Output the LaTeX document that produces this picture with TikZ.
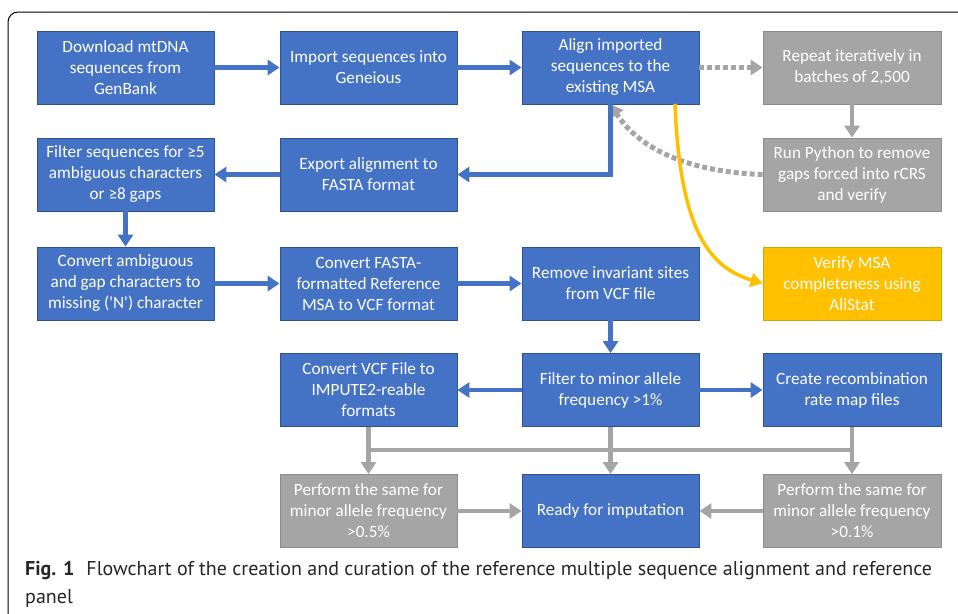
\documentclass[tikz,border=0pt]{standalone}
\usepackage{fontspec}
\setmainfont{Carlito}
\newfontfamily\capfont{PT Sans}
\usetikzlibrary{arrows.meta}
\definecolor{obl}{HTML}{4472C4}
\definecolor{obd}{HTML}{2F528F}
\definecolor{ogr}{HTML}{A5A5A5}
\definecolor{ogd}{HTML}{8C8C8C}
\definecolor{oye}{HTML}{FFC000}
\definecolor{oyd}{HTML}{D9A300}
\tikzset{
  box/.style={minimum width=177pt, minimum height=73pt, inner sep=2pt, align=center,
    text=white, font=\fontsize{17.2}{21}\selectfont, line width=0.8pt},
  bluebox/.style={box, fill=obl, draw=obd},
  graybox/.style={box, fill=ogr, draw=ogd},
  yelbox/.style={box, fill=oye, draw=oyd},
  bar/.style={line width=4.5pt, -{Triangle[width=15pt,length=12pt]}},
  bluearr/.style={bar, draw=obl},
  grayarr/.style={bar, draw=ogr},
  grayline/.style={line width=4.5pt, draw=ogr},
  dotarr/.style={line width=5pt, draw=ogr, dash pattern=on 5pt off 3pt, -{Triangle[width=15pt,length=12pt]}},
  yelarr/.style={line width=3.5pt, draw=oye, -{Triangle[width=14pt,length=12pt]}},
  captext/.style={anchor=base west, inner sep=0pt, font=\capfont\fontsize{20}{28}\selectfont, text=black!85},
}
\begin{document}
\begin{tikzpicture}[x=1pt,y=-1pt]
\useasboundingbox (0,0) rectangle (958,613);
\begin{scope}
\clip (0,0) rectangle (958,613);
\draw[line width=1pt, rounded corners=10pt] (8,12) rectangle (980,640);
\end{scope}
% row 1
\node[bluebox] (download) at (125.5,67.5) {Download mtDNA\\sequences from\\GenBank};
\node[bluebox] (import) at (368.5,67.5) {Import sequences into\\Geneious};
\node[bluebox] (align) at (610.5,67.5) {Align imported\\sequences to the\\existing MSA};
\node[graybox, minimum width=178pt] (repeat) at (852,67.5) {Repeat iteratively in\\batches of 2,500};
% row 2
\node[bluebox] (filter) at (125.5,174.5) {Filter sequences for ≥5\\ambiguous characters\\or ≥8 gaps};
\node[bluebox] (export) at (368.5,174.5) {Export alignment to\\FASTA format};
\node[graybox, minimum width=178pt] (python) at (852,174.5) {Run Python to remove\\gaps forced into rCRS\\and verify};
% row 3
\node[bluebox] (convamb) at (125.5,283.5) {Convert ambiguous\\and gap characters to\\missing (\textquotesingle N\textquotesingle) character};
\node[bluebox] (convfasta) at (368.5,283.5) {Convert FASTA-\\formatted Reference\\MSA to VCF format};
\node[bluebox] (remove) at (610.5,283.5) {Remove invariant sites\\from VCF file};
\node[yelbox, minimum width=178pt] (verify) at (852,283.5) {Verify MSA\\completeness using\\AliStat};
% row 4
\node[bluebox] (convvcf) at (368.5,390) {Convert VCF File to\\IMPUTE2-reable\\formats};
\node[bluebox] (fminor) at (610.5,390) {Filter to minor allele\\frequency >1\%};
\node[bluebox, minimum width=178pt] (create) at (852,390) {Create recombination\\rate map files};
% row 5
\node[graybox] (perf05) at (368.5,511) {Perform the same for\\minor allele frequency\\>0.5\%};
\node[bluebox] (ready) at (610.5,511) {Ready for imputation};
\node[graybox, minimum width=178pt] (perf01) at (852,511) {Perform the same for\\minor allele frequency\\>0.1\%};
% connectors
\draw[bluearr] (download) -- (import);
\draw[bluearr] (import) -- (align);
\draw[dotarr] (align) -- (repeat);
\draw[grayarr] (repeat) -- (python);
\draw[dotarr] (python.west) .. controls (690,172) and (640,150) .. (align.south);
\draw[bluearr] (align.south) |- (export.east);
\draw[bluearr] (export) -- (filter);
\draw[bluearr] (filter) -- (convamb);
\draw[bluearr] (convamb) -- (convfasta);
\draw[bluearr] (convfasta) -- (remove);
\coordinate (ys) at (675,104);
\draw[yelarr] (ys) .. controls (680,235) and (712,268) .. (verify.west);
\draw[bluearr] (remove) -- (fminor);
\draw[bluearr] (fminor) -- (convvcf);
\draw[bluearr] (fminor) -- (create);
\coordinate (hl) at (368.5,450);
\coordinate (hr) at (852,450);
\draw[grayline] (hl) -- (hr);
\draw[grayarr] (convvcf) -- (perf05);
\draw[grayarr] (fminor) -- (ready);
\draw[grayarr] (create) -- (perf01);
\draw[grayarr] (perf05) -- (ready);
\draw[grayarr] (perf01) -- (ready);
% caption
\node[captext] (cap1) at (25,575) {\textbf{Fig. 1}\hspace{0.6em}Flowchart of the creation and curation of the reference multiple sequence alignment and reference};
\node[captext] (cap2) at (25,603) {panel};
\end{tikzpicture}
\end{document}
